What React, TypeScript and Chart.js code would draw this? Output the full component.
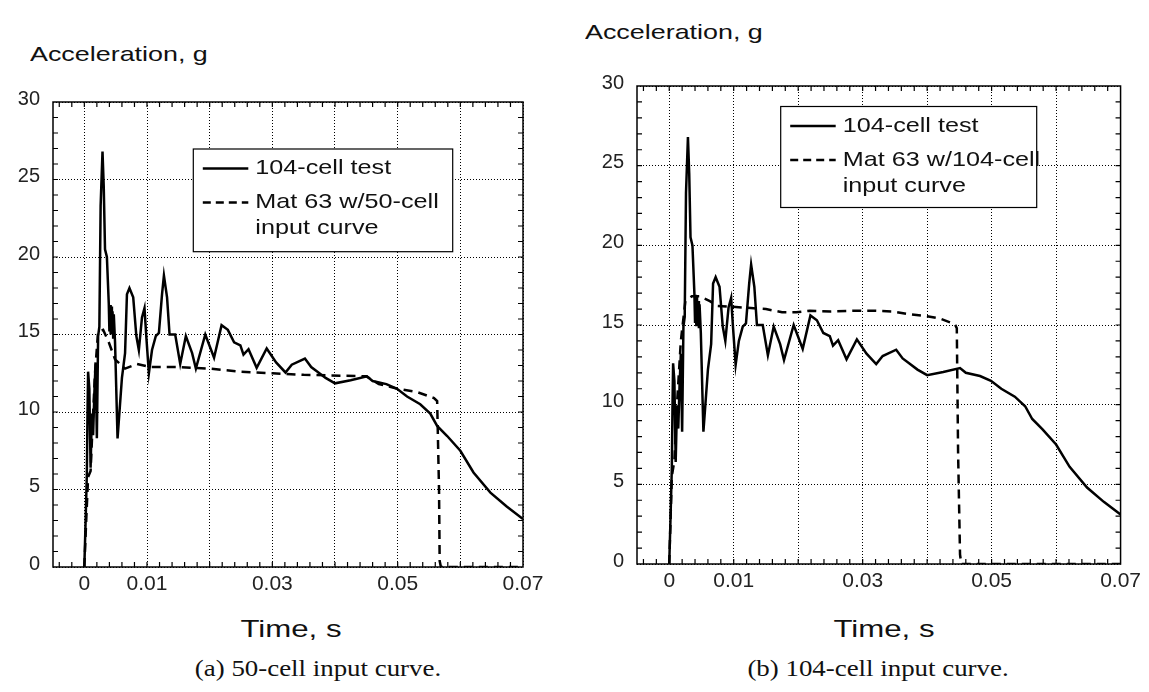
import React, { useEffect, useRef } from "react";
import { Chart, registerables } from "chart.js";
Chart.register(...registerables);

// ---- data (time in s, acceleration in g) ----
const testTime = [
  0, 0.0002, 0.0004, 0.0005, 0.0006, 0.0008, 0.001, 0.0012, 0.0014, 0.0016, 0.0018, 0.002, 0.0022, 0.0024,
  0.0026, 0.0029, 0.0031, 0.0033, 0.0036, 0.0039, 0.004, 0.0041, 0.0042, 0.0043, 0.0044, 0.0045, 0.0046,
  0.0047, 0.0049, 0.0053, 0.006,
  0.0065, 0.0068, 0.0072, 0.0078, 0.0083, 0.0087, 0.0092, 0.0096, 0.0099, 0.0103, 0.0108, 0.0114, 0.0119,
  0.0124, 0.0127, 0.0132, 0.0136, 0.0145, 0.0153, 0.0162, 0.0172, 0.0178, 0.0193, 0.0207, 0.0219, 0.0229,
  0.0239, 0.0249, 0.0254, 0.0262, 0.0275, 0.0291, 0.0306, 0.0321, 0.0331, 0.0352, 0.0362, 0.0372, 0.0385,
  0.04, 0.0425, 0.0451, 0.046, 0.0482, 0.0499, 0.0515, 0.0536, 0.0552, 0.0563, 0.0579, 0.06, 0.0621, 0.0648,
  0.0674, 0.07,
];
const testAccel = [
  0, 2.9, 6.0, 9.7, 12.6, 11.5, 6.4, 9.9, 8.5, 11.2, 13.2, 8.3, 14.9, 15.5,
  23.3, 26.8, 24.5, 20.5, 20.0, 17.0, 15.2, 16.9, 15.0, 16.8, 15.0, 16.5, 14.8,
  16.3, 14.5, 8.3, 12.2,
  13.8, 17.6, 18.0, 17.4, 14.9, 14.0, 16.1, 16.7, 14.8, 12.5, 14.0, 14.9, 15.1,
  17.6, 18.8, 17.4, 15.0, 15.0, 13.1, 14.9, 13.8, 12.8, 15.0, 13.5, 15.6, 15.3,
  14.5, 14.3, 13.7, 14.05, 12.85, 14.1, 13.2, 12.55, 13.05, 13.45, 12.9, 12.6, 12.2,
  11.85, 12.05, 12.3, 12.0, 11.8, 11.5, 11.0, 10.5, 9.9, 9.1, 8.45, 7.5, 6.1, 4.8,
  3.9, 3.1,
];
const mat50Time = [
  0, 0.0003, 0.0006, 0.001, 0.0013, 0.0017, 0.0022, 0.003, 0.0039, 0.0049, 0.0065, 0.0084, 0.0105,
  0.015, 0.02, 0.025, 0.03, 0.035, 0.045, 0.047, 0.05, 0.053, 0.0558, 0.0563, 0.0566, 0.0567, 0.0569, 0.07,
];
const mat50Accel = [
  0, 3, 5.8, 6.2, 9, 12.5, 15.2, 15.3, 14.5, 13.4, 12.8, 13.1, 12.9,
  12.9, 12.8, 12.6, 12.5, 12.4, 12.3, 11.8, 11.5, 11.3, 10.9, 10.7, 5, 0.4, 0, 0,
];
const mat104Time = [
  0, 0.0004, 0.0008, 0.0012, 0.0018, 0.0025, 0.0035, 0.0047, 0.0063, 0.0075, 0.0114, 0.015, 0.0175,
  0.0197, 0.0218, 0.025, 0.0295, 0.0316, 0.0347, 0.0368, 0.04, 0.042, 0.0443, 0.0446, 0.0448, 0.0451,
  0.0453, 0.07,
];
const mat104Accel = [
  0, 5.5, 6.5, 10, 14, 16.5, 16.8, 16.8, 16.5, 16.2, 16.1, 16.0, 15.8,
  15.8, 15.9, 15.85, 15.9, 15.9, 15.85, 15.7, 15.55, 15.4, 15.05, 14.8, 7, 0.6,
  0, 0,
];
const xTickValues = [0, 0.01, 0.02, 0.03, 0.04, 0.05, 0.06, 0.07];
const xTickLabels = ["0", "0.01", "", "0.03", "", "0.05", "", "0.07"];
const yTickValues = [0, 5, 10, 15, 20, 25, 30];
const testLabel = "104-cell test";
const legendA = ["104-cell test", "Mat 63 w/50-cell", "input curve"];
const legendB = ["104-cell test", "Mat 63 w/104-cell", "input curve"];

const SANS = "'Liberation Sans', Arial, Helvetica, sans-serif";
const SERIF = "'Liberation Serif', 'Times New Roman', serif";

const toXY = (xs: number[], ys: number[]) => xs.map((x, i) => ({ x, y: ys[i] }));

type PanelProps = {
  left: number; top: number; width: number; height: number;
  padTop: number; padRight: number; yWidth: number; xHeight: number;
  dashT: number[]; dashA: number[]; legend: string[];
  lg: { x: number; y: number; w: number; h: number };
};

function Panel(p: PanelProps) {
  const ref = useRef<HTMLCanvasElement | null>(null);
  useEffect(() => {
    if (!ref.current) return;
    const frame = {
      id: "frame",
      afterDraw(chart: any) {
        const { ctx, chartArea: a, scales } = chart;
        const xs = scales.x, ys = scales.y;
        ctx.save();
        ctx.strokeStyle = "#000";
        ctx.lineWidth = 1.2;
        ctx.beginPath();
        for (let k = -2; k <= 34; k++) {
          const v = k * 0.002;
          if (v <= -0.005 || v >= 0.07) continue;
          const px = xs.getPixelForValue(v);
          ctx.moveTo(px, a.top); ctx.lineTo(px, a.top + 5);
          ctx.moveTo(px, a.bottom); ctx.lineTo(px, a.bottom - 5);
        }
        for (let v = 1; v < 30; v++) {
          const py = ys.getPixelForValue(v);
          ctx.moveTo(a.left, py); ctx.lineTo(a.left + 5, py);
          ctx.moveTo(a.right, py); ctx.lineTo(a.right - 5, py);
        }
        ctx.stroke();
        ctx.lineWidth = 1.5;
        ctx.strokeRect(a.left, a.top, a.right - a.left, a.bottom - a.top);
        // legend
        const x0 = a.left + p.lg.x, y0 = a.top + p.lg.y;
        ctx.fillStyle = "#fff";
        ctx.fillRect(x0, y0, p.lg.w, p.lg.h);
        ctx.lineWidth = 1.2;
        ctx.strokeRect(x0, y0, p.lg.w, p.lg.h);
        const rows = [19.5, 53.5, 79.5];
        ctx.lineWidth = 2.5;
        ctx.beginPath();
        ctx.moveTo(x0 + 9.5, y0 + rows[0]); ctx.lineTo(x0 + 55, y0 + rows[0]);
        ctx.stroke();
        ctx.setLineDash([8, 5]);
        ctx.beginPath();
        ctx.moveTo(x0 + 9.5, y0 + rows[1]); ctx.lineTo(x0 + 55, y0 + rows[1]);
        ctx.stroke();
        ctx.setLineDash([]);
        ctx.fillStyle = "#111";
        ctx.font = `21px ${SANS}`;
        ctx.textBaseline = "middle";
        p.legend.forEach((t, i) => {
          ctx.save();
          ctx.translate(x0 + 62, y0 + rows[i]);
          ctx.scale(1.2, 1);
          ctx.fillText(t, 0, 0);
          ctx.restore();
        });
        ctx.restore();
      },
    };
    const chart = new Chart(ref.current, {
      type: "line",
      data: {
        datasets: [
          {
            label: testLabel,
            data: toXY(testTime, testAccel),
            borderColor: "#000",
            borderWidth: 2.5,
            pointRadius: 0,
            tension: 0,
          },
          {
            label: p.legend[1] + " " + p.legend[2],
            data: toXY(p.dashT, p.dashA),
            borderColor: "#000",
            borderWidth: 2.5,
            borderDash: [9, 6],
            pointRadius: 0,
            tension: 0,
          },
        ],
      },
      options: {
        animation: false,
        responsive: false,
        maintainAspectRatio: false,
        layout: { autoPadding: false, padding: { top: p.padTop, right: p.padRight, left: 0, bottom: 0 } },
        plugins: { legend: { display: false }, title: { display: false }, tooltip: { enabled: false } },
        scales: {
          x: {
            type: "linear",
            min: -0.005,
            max: 0.07,
            afterBuildTicks: (s: any) => { s.ticks = xTickValues.map((v) => ({ value: v })); },
            afterFit: (s: any) => { s.height = p.xHeight; },
            ticks: {
              autoSkip: false,
              maxRotation: 0,
              padding: 5,
              color: "#222",
              font: { family: SANS, size: 21 },
              callback: (_v: any, i: number) => xTickLabels[i],
            },
            grid: { color: "#000", lineWidth: 1, drawTicks: false },
            border: { display: false, dash: [1, 2] },
          },
          y: {
            type: "linear",
            min: 0,
            max: 30,
            afterBuildTicks: (s: any) => { s.ticks = yTickValues.map((v) => ({ value: v })); },
            afterFit: (s: any) => { s.width = p.yWidth; },
            ticks: {
              padding: 13,
              labelOffset: -3,
              color: "#222",
              font: { family: SANS, size: 20 },
              callback: (v: any) => String(v),
            },
            grid: { color: "#000", lineWidth: 1, drawTicks: false },
            border: { display: false, dash: [1, 2] },
          },
        },
      },
      plugins: [frame],
    } as any);
    return () => chart.destroy();
  }, []);
  return (
    <canvas
      ref={ref}
      width={p.width}
      height={p.height}
      style={{ position: "absolute", left: p.left, top: p.top, width: p.width, height: p.height }}
    />
  );
}

function Txt(props: { cx: number; top: number; size: number; family: string; sx: number; text: string; w?: number }) {
  const w = props.w ?? 400;
  return (
    <div
      style={{
        position: "absolute",
        left: props.cx - w / 2,
        top: props.top,
        width: w,
        textAlign: "center",
        fontFamily: props.family,
        fontSize: props.size,
        lineHeight: 1,
        color: "#111",
        whiteSpace: "nowrap",
        transform: `scaleX(${props.sx})`,
        transformOrigin: "center top",
      }}
    >
      {props.text}
    </div>
  );
}

export default function App() {
  return (
    <div style={{ position: "absolute", left: 0, top: 0, width: 1149, height: 692, background: "#fff", overflow: "hidden" }}>
      <div style={{ position: "absolute", left: 30, top: 43, fontFamily: SANS, fontSize: 21, lineHeight: 1, color: "#111", whiteSpace: "nowrap", transform: "scaleX(1.28)", transformOrigin: "left top" }}>
        Acceleration, g
      </div>
      <div style={{ position: "absolute", left: 585, top: 21, fontFamily: SANS, fontSize: 21, lineHeight: 1, color: "#111", whiteSpace: "nowrap", transform: "scaleX(1.28)", transformOrigin: "left top" }}>
        Acceleration, g
      </div>
      <Panel
        left={0} top={77} width={550} height={523} padTop={20} padRight={27} yWidth={53} xHeight={33}
        dashT={mat50Time} dashA={mat50Accel} legend={legendA}
        lg={{ x: 140.3, y: 47, w: 259.4, h: 102.7 }}
      />
      <Panel
        left={580} top={61} width={566} height={536} padTop={20} padRight={25} yWidth={57} xHeight={33}
        dashT={mat104Time} dashA={mat104Accel} legend={legendB}
        lg={{ x: 143.7, y: 20.5, w: 256, h: 101 }}
      />
      <Txt cx={291} top={617} size={24} family={SANS} sx={1.3} text="Time, s" />
      <Txt cx={884} top={617} size={24} family={SANS} sx={1.3} text="Time, s" />
      <Txt cx={318} top={656} size={24} family={SERIF} sx={1.12} text="(a) 50-cell input curve." />
      <Txt cx={878} top={656} size={24} family={SERIF} sx={1.12} text="(b) 104-cell input curve." />
    </div>
  );
}
